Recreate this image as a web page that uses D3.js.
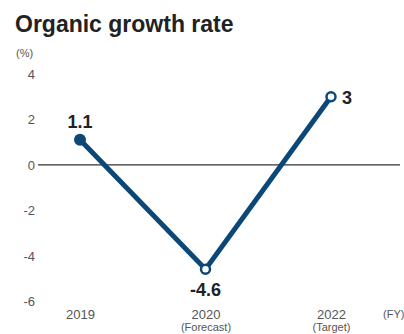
<!DOCTYPE html>
<html><head><meta charset="utf-8">
<script src="https://cdn.jsdelivr.net/npm/d3@7"></script>
<style>body{margin:0;background:#fff;}svg{display:block;}</style>
</head><body>
<svg id="c" width="404" height="334"></svg>
<script>
const years = ["2019", "2020", "2022"];
const subLabels = ["", "(Forecast)", "(Target)"];
const values = [1.1, -4.6, 3];
const valueLabels = ["1.1", "-4.6", "3"];
const yTicks = [4, 2, 0, -2, -4, -6];

const svg = d3.select("#c");
const font = "'Liberation Sans',Arial,sans-serif";
const x = d3.scalePoint().domain(years).range([80, 331]);
const y = d3.scaleLinear().domain([-6, 4]).range([301, 74]);
const blue = "#0b4877";
const gray = "#555";

svg.append("text").attr("x", 15).attr("y", 32)
  .attr("font-family", font).attr("font-weight", "bold")
  .attr("font-size", 23).attr("fill", "#222").text("Organic growth rate");

svg.append("text").attr("x", 16).attr("y", 57)
  .attr("font-family", font).attr("font-size", 11).attr("fill", gray).text("(%)");

const yAxis = d3.axisLeft(y).tickValues(yTicks).tickSize(0).tickPadding(0).tickFormat(d => String(d));
const ga = svg.append("g").attr("transform", "translate(35,0)").call(yAxis);
ga.select(".domain").remove();
ga.selectAll("text").attr("font-family", font).attr("font-size", 13).attr("fill", gray).attr("dy", "0.35em");

svg.append("line").attr("x1", 38).attr("x2", 400).attr("y1", y(0)).attr("y2", y(0))
  .attr("stroke", "#333").attr("stroke-width", 1.2);

const xAxis = d3.axisBottom(x).tickSize(0).tickPadding(0);
const gx = svg.append("g").attr("transform", "translate(0,319)").call(xAxis);
gx.select(".domain").remove();
gx.selectAll("text").attr("font-family", font).attr("font-size", 13).attr("fill", gray).attr("dy", "0");
gx.selectAll(".tick").append("text").attr("y", 12).attr("text-anchor", "middle")
  .attr("font-family", font).attr("font-size", 11).attr("fill", gray)
  .text((d, i) => subLabels[i]);
svg.append("text").attr("x", 383).attr("y", 318).attr("font-family", font).attr("font-size", 11)
  .attr("fill", gray).text("(FY)");

const line = d3.line().x((d, i) => x(years[i])).y(d => y(d));
svg.append("path").datum(values).attr("d", line).attr("fill", "none")
  .attr("stroke", blue).attr("stroke-width", 5).attr("stroke-linejoin", "miter");

svg.selectAll("circle.pt").data(values).enter().append("circle")
  .attr("cx", (d, i) => x(years[i])).attr("cy", d => y(d))
  .attr("r", (d, i) => i === 0 ? 6 : 4.5)
  .attr("fill", (d, i) => i === 0 ? blue : "#fff")
  .attr("stroke", blue).attr("stroke-width", (d, i) => i === 0 ? 0 : 2.5);

const lblPos = [{dx: 0, dy: -12, a: "middle"}, {dx: 0, dy: 27, a: "middle"}, {dx: 11, dy: 7, a: "start"}];
svg.selectAll("text.vl").data(values).enter().append("text")
  .attr("x", (d, i) => x(years[i]) + lblPos[i].dx)
  .attr("y", (d, i) => y(d) + lblPos[i].dy)
  .attr("text-anchor", (d, i) => lblPos[i].a)
  .attr("font-family", font).attr("font-weight", "bold").attr("font-size", 18).attr("fill", "#222")
  .text((d, i) => valueLabels[i]);
</script>
</body></html>
